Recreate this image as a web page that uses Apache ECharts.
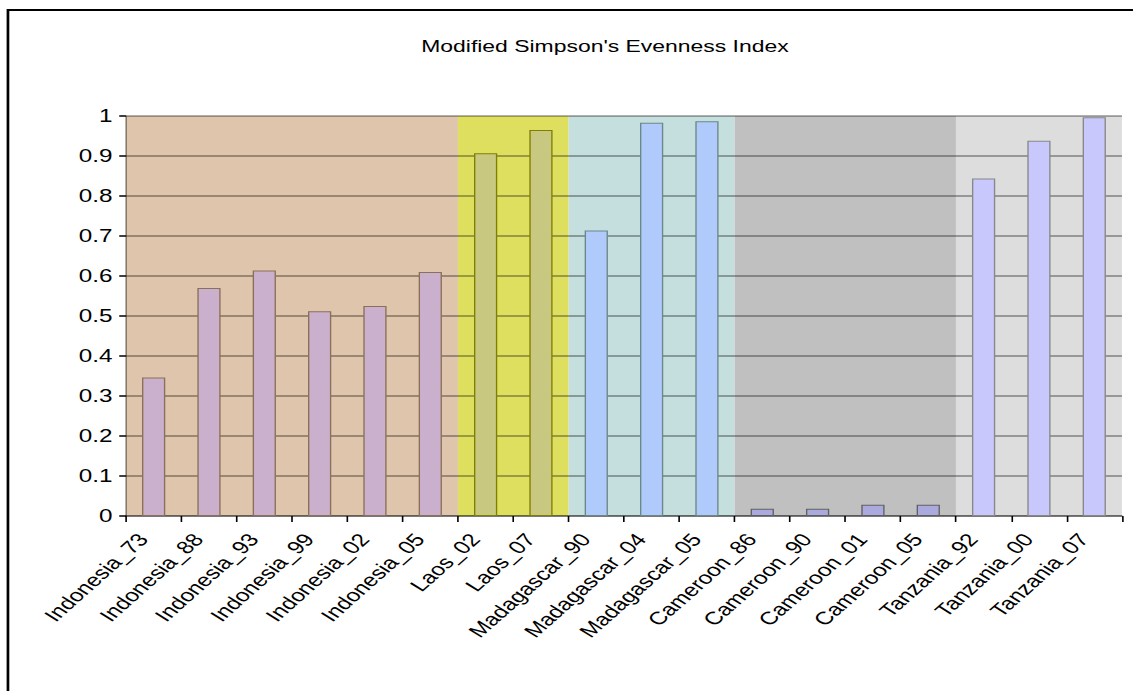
<!DOCTYPE html>
<html>
<head>
<meta charset="utf-8">
<title>Modified Simpson's Evenness Index</title>
<script src="https://cdn.jsdelivr.net/npm/echarts@6/dist/echarts.min.js"></script>
<style>
  html, body { margin: 0; padding: 0; background: #ffffff; overflow: hidden; }
  /* the chart is laid out narrow and widened on screen, which gives its wide lettering */
  #chart { width: 840px; height: 691px; transform: scaleX(1.3488); transform-origin: 0 0; }
</style>
</head>
<body>
<div id="chart"></div>
<script>
// Sites (country_year) and their modified Simpson's evenness values
const sites = [
  'Indonesia_73', 'Indonesia_88', 'Indonesia_93', 'Indonesia_99', 'Indonesia_02', 'Indonesia_05',
  'Laos_02', 'Laos_07',
  'Madagascar_90', 'Madagascar_04', 'Madagascar_05',
  'Cameroon_86', 'Cameroon_90', 'Cameroon_01', 'Cameroon_05',
  'Tanzania_92', 'Tanzania_00', 'Tanzania_07'
];
const evenness = [
  0.346, 0.570, 0.614, 0.512, 0.525, 0.610,
  0.907, 0.965,
  0.714, 0.983, 0.987,
  0.018, 0.018, 0.028, 0.028,
  0.844, 0.938, 0.997
];
// Country groups: how many consecutive sites each one covers
const countries = ['Indonesia', 'Laos', 'Madagascar', 'Cameroon', 'Tanzania'];
const countrySizes = [6, 2, 3, 4, 3];
const yTicks = [0, 0.1, 0.2, 0.3, 0.4, 0.5, 0.6, 0.7, 0.8, 0.9, 1];

// Shading, bar fill and outline for each country block
const countryStyles = [
  { band: '#dfc5ab', bar: '#cab0cc', edge: '#8a7058' },
  { band: '#dfdf5f', bar: '#c8c880', edge: '#7f7f00' },
  { band: '#c5dede', bar: '#b0cafc', edge: '#6b8888' },
  { band: '#c0c0c0', bar: '#aaaade', edge: '#606060' },
  { band: '#dddddd', bar: '#c8c8fc', edge: '#888888' }
];

// country index of every site
const siteCountry = [];
countrySizes.forEach((n, g) => { for (let i = 0; i < n; i++) siteCountry.push(g); });

// band extents in category units along the hidden value axis
const bands = [];
let start = 0;
countrySizes.forEach((n, g) => {
  bands.push([
    { name: countries[g], xAxis: start, yAxis: 0, itemStyle: { color: countryStyles[g].band } },
    { xAxis: start + n, yAxis: 1.0075 }
  ]);
  start += n;
});

const barData = evenness.map((v, i) => ({
  value: v,
  itemStyle: {
    color: countryStyles[siteCountry[i]].bar,
    borderColor: countryStyles[siteCountry[i]].edge,
    borderWidth: 1
  }
}));

const FONT = '"Liberation Sans", Arial, sans-serif';
const chart = echarts.init(document.getElementById('chart'), null, { renderer: 'svg' });

chart.setOption({
  animation: false,
  backgroundColor: '#ffffff',
  graphic: [
    {
      type: 'polyline',
      z: 100,
      shape: { points: [[5.9, 691], [5.9, 10], [840, 10]] },
      style: { stroke: '#000000', lineWidth: 2, fill: null },
      silent: true
    },
    {
      type: 'text',
      z: 100,
      x: 448.5, y: 46,
      style: {
        text: "Modified Simpson's Evenness Index",
        fontFamily: FONT, fontSize: 17, fill: '#000000',
        align: 'center', verticalAlign: 'middle'
      },
      silent: true
    }
  ],
  grid: { left: 93.4, top: 116, width: 738.4, height: 400, containLabel: false },
  xAxis: [
    {
      type: 'category',
      data: sites,
      boundaryGap: true,
      z: 5,
      axisLine: { show: true, lineStyle: { color: 'rgba(0,0,0,0.42)', width: 1.5 } },
      axisTick: { show: true, inside: false, length: 6, lineStyle: { color: '#000000', width: 1.2 } },
      axisLabel: {
        rotate: 50, interval: 0, margin: 11, padding: [0, 12, 0, 0],
        fontFamily: FONT, fontSize: 18, color: '#000000'
      },
      splitLine: { show: false }
    },
    {
      type: 'value', min: 0, max: countrySizes.reduce((a, b) => a + b, 0),
      show: false
    }
  ],
  yAxis: {
    type: 'value',
    min: yTicks[0], max: yTicks[yTicks.length - 1], interval: 0.1,
    z: 5,
    axisLine: { show: true, lineStyle: { color: 'rgba(0,0,0,0.42)', width: 1.2 } },
    axisTick: { show: true, inside: false, length: 5, lineStyle: { color: '#000000', width: 1.5 } },
    axisLabel: {
      margin: 10, fontFamily: FONT, fontSize: 18, color: '#000000',
      formatter: v => String(Math.round(v * 10) / 10)
    },
    splitLine: { show: true, lineStyle: { color: 'rgba(0,0,0,0.42)', width: 1.6 } }
  },
  series: [
    {
      name: 'country bands',
      type: 'line',
      xAxisIndex: 1,
      data: [],
      silent: true,
      z: -10,
      markArea: { silent: true, z: -10, label: { show: false }, data: bands }
    },
    {
      name: 'evenness',
      type: 'bar',
      xAxisIndex: 0,
      data: barData,
      barWidth: '42%',
      z: 10
    }
  ]
});
</script>
</body>
</html>
